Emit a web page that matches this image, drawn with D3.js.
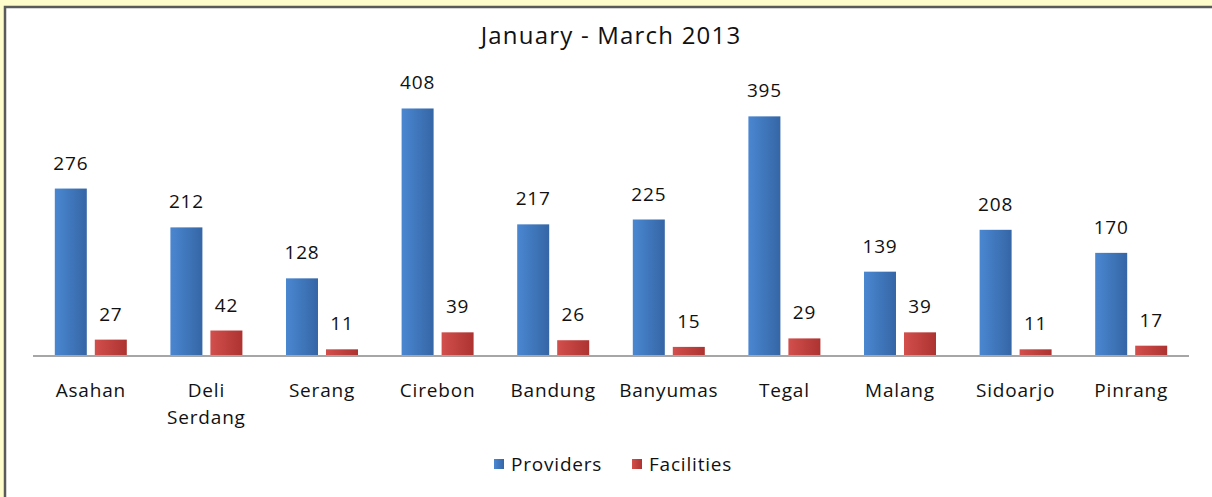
<!DOCTYPE html>
<html lang="en">
<head>
    <meta charset="UTF-8">
    <title>January - March 2013</title>
    <script src="https://d3js.org/d3.v7.min.js"></script>
    <style>
        body {
            margin: 0;
            background: #fffccc;
        }
        svg {
            display: block;
            font-family: "Open Sans", Arial, sans-serif;
        }
        .lbl {
            font-size: 19px;
            fill: #111;
            letter-spacing: 0.8px;
        }
    </style>
</head>
<body>
    <script>
        // Chart data
        const districts = ["Asahan", "Deli Serdang", "Serang", "Cirebon", "Bandung", "Banyumas", "Tegal", "Malang", "Sidoarjo", "Pinrang"];
        const providers = [276, 212, 128, 408, 217, 225, 395, 139, 208, 170];
        const facilities = [27, 42, 11, 39, 26, 15, 29, 39, 11, 17];
        const seriesNames = ["Providers", "Facilities"];
        const seriesColors = { Providers: ["#4a87d1", "#3566a6"], Facilities: ["#d24f4c", "#ad3331"] };

        const W = 1212, H = 497;
        const svg = d3.select("body").append("svg")
            .attr("width", W)
            .attr("height", H);

        // frame: yellow page with the white chart panel
        svg.append("rect").attr("x", 5).attr("y", 7).attr("width", W).attr("height", H)
            .attr("fill", "#fff").attr("stroke", "#5a5a5a").attr("stroke-width", 2.5);

        const defs = svg.append("defs");
        seriesNames.forEach(s => {
            const g = defs.append("linearGradient").attr("id", "grad-" + s)
                .attr("x1", "0%").attr("x2", "100%").attr("y1", "0%").attr("y2", "0%");
            g.append("stop").attr("offset", "0%").attr("stop-color", seriesColors[s][0]);
            g.append("stop").attr("offset", "100%").attr("stop-color", seriesColors[s][1]);
        });

        const x = d3.scaleBand().domain(districts).range([33, 1189]);
        const xs = d3.scaleBand().domain(seriesNames).range([-36, 36]).paddingInner(0.2);
        const y = d3.scaleLinear().domain([0, 450]).range([356, 83]);

        svg.append("text")
            .attr("x", 611).attr("y", 44)
            .attr("text-anchor", "middle")
            .attr("font-size", 24)
            .attr("letter-spacing", "1.2px")
            .attr("fill", "#111")
            .text("January - March 2013");

        const rows = districts.map((d, i) => ({ name: d, Providers: providers[i], Facilities: facilities[i] }));

        const groups = svg.selectAll("g.cat")
            .data(rows)
            .join("g")
            .attr("class", "cat")
            .attr("transform", d => `translate(${x(d.name) + x.bandwidth() / 2},0)`);

        groups.selectAll("rect")
            .data(d => seriesNames.map(s => ({ s, v: d[s] })))
            .join("rect")
            .attr("x", d => xs(d.s))
            .attr("width", xs.bandwidth())
            .attr("y", d => y(d.v))
            .attr("height", d => y(0) - y(d.v))
            .attr("fill", d => `url(#grad-${d.s})`);

        groups.selectAll("text.val")
            .data(d => seriesNames.map(s => ({ s, v: d[s] })))
            .join("text")
            .attr("class", "val lbl")
            .attr("x", d => xs(d.s) + xs.bandwidth() / 2)
            .attr("y", d => y(d.v) - 19)
            .attr("text-anchor", "middle")
            .text(d => d.v);

        // baseline
        svg.append("line")
            .attr("x1", 33).attr("x2", 1189)
            .attr("y1", y(0)).attr("y2", y(0))
            .attr("stroke", "#a6a6a6").attr("stroke-width", 2);

        // category labels, wrapped to two lines where needed
        groups.append("text")
            .attr("class", "lbl")
            .attr("text-anchor", "middle")
            .selectAll("tspan")
            .data(d => d.name.split(" "))
            .join("tspan")
            .attr("x", 0)
            .attr("y", (d, i) => 397 + i * 27)
            .text(d => d);

        // legend
        const legend = svg.append("g").attr("transform", "translate(494,471)");
        const lx = [0, 138];
        seriesNames.forEach((s, i) => {
            legend.append("rect").attr("x", lx[i]).attr("y", -12).attr("width", 10).attr("height", 10)
                .attr("fill", `url(#grad-${s})`);
            legend.append("text").attr("class", "lbl").attr("x", lx[i] + 17).attr("y", 0).text(s);
        });
    </script>
</body>
</html>
